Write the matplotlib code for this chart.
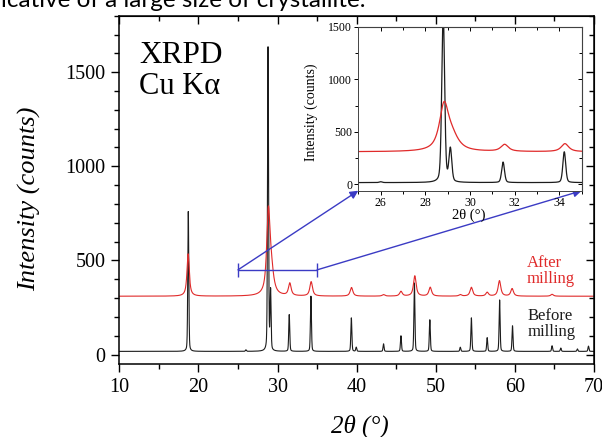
import numpy as np
import matplotlib
matplotlib.use('Agg')
import matplotlib.pyplot as plt
from matplotlib.ticker import MultipleLocator

# Colours
BLACK = '#1c1c1c'
RED = '#e02a2a'
BLUE = '#3b3bc4'
SERIF = 'Liberation Serif'

# Peaks: position (2theta, deg) and height above background (counts)
before_pos = [18.72, 26.0, 28.80, 29.12, 31.48, 34.22, 39.33, 39.95, 43.40, 45.60,
              47.30, 49.25, 53.10, 54.50, 56.50, 58.07, 59.70, 64.70, 65.80, 67.90, 69.30]
before_height = [743, 8, 1613, 313, 195, 293, 178, 22, 40, 83,
                 363, 168, 22, 178, 73, 273, 136, 30, 18, 13, 28]
before_base = 17

after_pos = [18.70, 28.84, 29.20, 31.55, 34.25, 39.35, 43.40, 45.60, 47.35, 49.30,
             53.10, 54.50, 56.50, 58.05, 59.65, 64.70]
after_height = [225, 420, 120, 66, 76, 46, 8, 25, 108, 47,
                8, 47, 20, 82, 40, 10]
after_fwhm = [0.35, 0.5, 0.7, 0.4, 0.4, 0.4, 0.4, 0.4, 0.4, 0.4,
              0.4, 0.4, 0.4, 0.4, 0.4, 0.4]
after_base = 310

# zoomed window shown in the inset
zoom_lo, zoom_hi = 25, 35
bracket_y = 450


def pattern(x, pos, height, fwhm, base, eta):
    """Pseudo-Voigt sum of the listed peaks on a flat background"""
    y = np.full_like(x, float(base))
    for p, h, w in zip(pos, height, fwhm):
        d = (x - p) / (w / 2)
        y += h * (eta / (1 + d ** 2) + (1 - eta) * np.exp(-np.log(2) * d ** 2))
    return y


W, H = 602, 437


def fx(px):
    return px / W


def fy(py):
    return 1 - py / H


plt.rcParams['font.family'] = SERIF
fig = plt.figure(figsize=(W / 100, H / 100), dpi=100)

# Main axes
ax = fig.add_axes([fx(119.3), fy(364), (594 - 119.3) / W, (364 - 15.7) / H])
x = np.linspace(10, 70, 12001)
y_before = pattern(x, before_pos, before_height, [0.15] * len(before_pos), before_base, 0.3)
y_after = pattern(x, after_pos, after_height, after_fwhm, after_base, 0.85)
ax.plot(x, y_before, color=BLACK, lw=0.8)
ax.plot(x, y_after, color=RED, lw=0.8)
ax.set_xlim(10, 70)
ax.set_ylim(-50, 1800)
ax.xaxis.set_major_locator(MultipleLocator(10))
ax.xaxis.set_minor_locator(MultipleLocator(5))
ax.yaxis.set_major_locator(MultipleLocator(500))
ax.yaxis.set_minor_locator(MultipleLocator(100))
ax.tick_params(which='major', length=6, width=1, labelsize=14.5, pad=4)
ax.tick_params(which='minor', length=3.5, width=1)
for s in ax.spines.values():
    s.set_linewidth(1.1)

top = ax.secondary_xaxis('top')
top.xaxis.set_major_locator(MultipleLocator(10))
top.xaxis.set_minor_locator(MultipleLocator(5))
top.tick_params(which='both', direction='in', labeltop=False)
top.tick_params(which='major', length=6, width=1)
top.tick_params(which='minor', length=3.5, width=1)
right = ax.secondary_yaxis('right')
right.yaxis.set_major_locator(MultipleLocator(500))
right.yaxis.set_minor_locator(MultipleLocator(100))
right.tick_params(which='both', direction='in', labelright=False)
right.tick_params(which='major', length=6, width=1)
right.tick_params(which='minor', length=3.5, width=1)

fig.text(fx(29.5), fy(199), 'Intensity (counts)', rotation=90, ha='center', va='center',
         fontsize=19, style='italic')
fig.text(fx(360), fy(426), '2θ (°)', ha='center', va='center', fontsize=18, style='italic')

fig.text(fx(139), fy(63), 'XRPD', fontsize=22.5, va='baseline')
fig.text(fx(139), fy(94), 'Cu Kα', fontsize=22, va='baseline')

fig.text(fx(527), fy(267), 'After', fontsize=12, color=RED, va='baseline')
fig.text(fx(527), fy(283), 'milling', fontsize=12, color=RED, va='baseline')
fig.text(fx(528), fy(320), 'Before', fontsize=12, color=BLACK, va='baseline')
fig.text(fx(528), fy(336), 'milling', fontsize=12, color=BLACK, va='baseline')

# bracket marking the zoomed range
ax.hlines(bracket_y, zoom_lo, zoom_hi, color=BLUE, lw=1)
ax.vlines([zoom_lo, zoom_hi], bracket_y - 38, bracket_y + 38, color=BLUE, lw=1)

# Inset
axin = fig.add_axes([fx(358.3), fy(190.7), (581.7 - 358.3) / W, (190.7 - 26.7) / H])
xi = np.linspace(zoom_lo, zoom_hi, 4001)
axin.plot(xi, pattern(xi, before_pos, before_height, [0.15] * len(before_pos), before_base, 0.3),
          color=BLACK, lw=0.9)
axin.plot(xi, pattern(xi, after_pos, after_height, after_fwhm, after_base, 0.85),
          color=RED, lw=0.9)
axin.set_xlim(zoom_lo, zoom_hi)
axin.set_ylim(-60, 1500)
axin.xaxis.set_major_locator(MultipleLocator(2))
axin.xaxis.set_minor_locator(MultipleLocator(1))
axin.yaxis.set_major_locator(MultipleLocator(500))
axin.yaxis.set_minor_locator(MultipleLocator(250))
axin.tick_params(which='major', length=3, width=0.7, labelsize=8.5, pad=1.5)
axin.tick_params(which='minor', length=2, width=0.7)
for s in axin.spines.values():
    s.set_linewidth(0.7)
    s.set_color('#444444')
itop = axin.secondary_xaxis('top')
itop.xaxis.set_major_locator(MultipleLocator(2))
itop.xaxis.set_minor_locator(MultipleLocator(1))
itop.tick_params(which='both', direction='in', labeltop=False, width=0.7)
itop.tick_params(which='major', length=3)
itop.tick_params(which='minor', length=2)
iright = axin.secondary_yaxis('right')
iright.yaxis.set_major_locator(MultipleLocator(500))
iright.yaxis.set_minor_locator(MultipleLocator(250))
iright.tick_params(which='both', direction='in', labelright=False, width=0.7)
iright.tick_params(which='major', length=3)
iright.tick_params(which='minor', length=2)
fig.text(fx(311.5), fy(112.5), 'Intensity (counts)', rotation=90, ha='center', va='center',
         fontsize=10)
fig.text(fx(469), fy(215), '2θ (°)', ha='center', va='center', fontsize=10.5)

# arrows from the bracket to the inset corners
for end, corner in ((zoom_lo, 0), (zoom_hi, 1)):
    ax.annotate('', xy=(corner, 0), xycoords=axin.transAxes,
                xytext=(end, bracket_y), textcoords='data',
                arrowprops=dict(arrowstyle='-|>', color=BLUE, lw=1,
                                shrinkA=0, shrinkB=0, mutation_scale=12))

# cropped caption line above the figure
fig.text(fx(365), fy(7), 'indicative of a large size of crystallite.', ha='right',
         va='baseline', fontsize=17.5, family='Lato')

fig.savefig('out.png', dpi=100)
